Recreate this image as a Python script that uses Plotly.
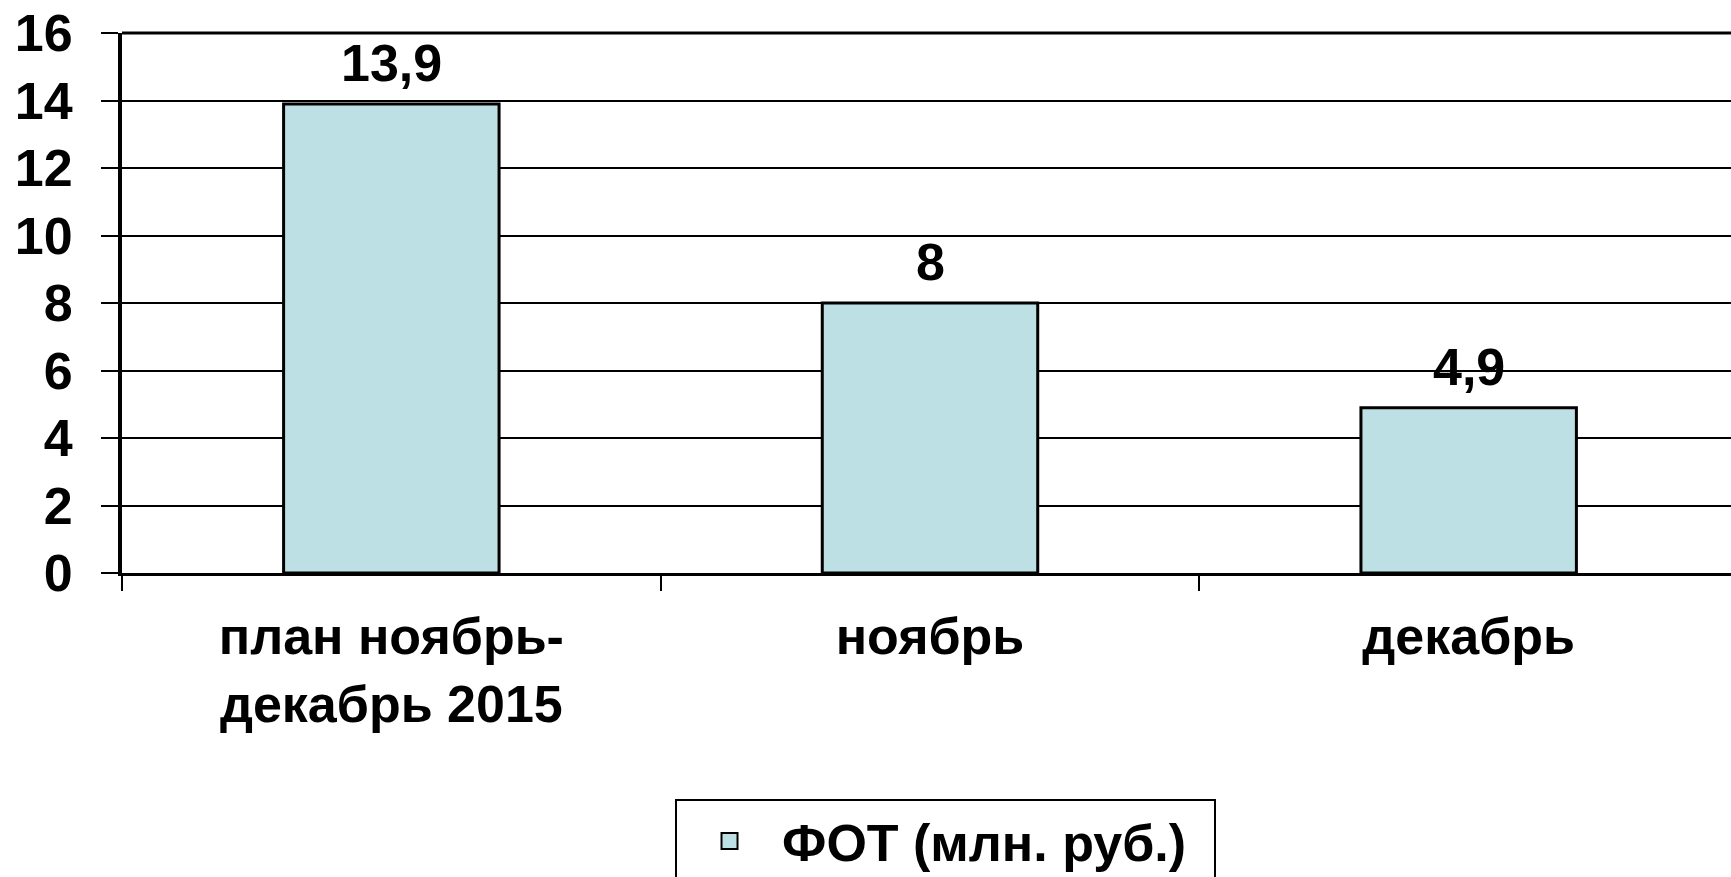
import plotly.graph_objects as go

categories = ["план ноябрь-<br>декабрь 2015", "ноябрь", "декабрь"]
values = [13.9, 8, 4.9]
series_name = "ФОТ (млн. руб.)"
y_ticks = [0, 2, 4, 6, 8, 10, 12, 14, 16]

labels = [(f"{v:g}").replace(".", ",") for v in values]

FONT = dict(family="Arial, 'Liberation Sans', sans-serif", size=52, color="black", weight="bold")
BAR_COLOR = "#BCE0E3"

fig = go.Figure()
fig.add_trace(go.Bar(
    x=categories, y=values, width=0.40,
    marker=dict(color=BAR_COLOR, line=dict(color="black", width=3)),
    showlegend=False,
))
fig.add_trace(go.Scatter(
    x=[None], y=[None], mode="markers", name=series_name,
    marker=dict(symbol="square", size=26, color=BAR_COLOR, line=dict(color="black", width=2)),
))

for c, v, t in zip(categories, values, labels):
    fig.add_annotation(x=c, y=v, text=t, showarrow=False, yanchor="middle",
                       yshift=41, font=FONT)

fig.update_layout(
    width=1731, height=877,
    margin=dict(l=122, r=0, t=33, b=304, autoexpand=False),
    paper_bgcolor="white", plot_bgcolor="white",
    font=FONT,
    showlegend=True,
    legend=dict(
        x=0.3437, xanchor="left", y=-0.418, yanchor="top",
        bordercolor="black", borderwidth=2, bgcolor="white",
        font=FONT, itemsizing="trace", orientation="h", itemwidth=95,
        entrywidth=427,
    ),
    xaxis=dict(
        range=[-0.5, 2.487], showline=True, linecolor="black", linewidth=3,
        ticks="outside", tickson="boundaries", ticklen=15, tickwidth=2, tickcolor="black",
        showgrid=False, tickfont=FONT, mirror=False, ticklabelstandoff=16,
        automargin=False,
    ),
    yaxis=dict(
        range=[0, 16], tickvals=y_ticks, showline=True, linecolor="black", linewidth=4,
        ticks="outside", ticklen=17, tickwidth=2, tickcolor="black",
        showgrid=True, gridcolor="black", gridwidth=2, zeroline=False,
        tickfont=FONT, ticklabelstandoff=18, automargin=False,
        ticklabeloverflow="allow",
    ),
)
fig.add_shape(type="line", xref="paper", yref="paper", x0=0, x1=1, y0=1, y1=1,
              line=dict(color="black", width=3))

fig.write_html("out.html", post_script="document.body.style.margin='0';",
               config={"displayModeBar": False})
